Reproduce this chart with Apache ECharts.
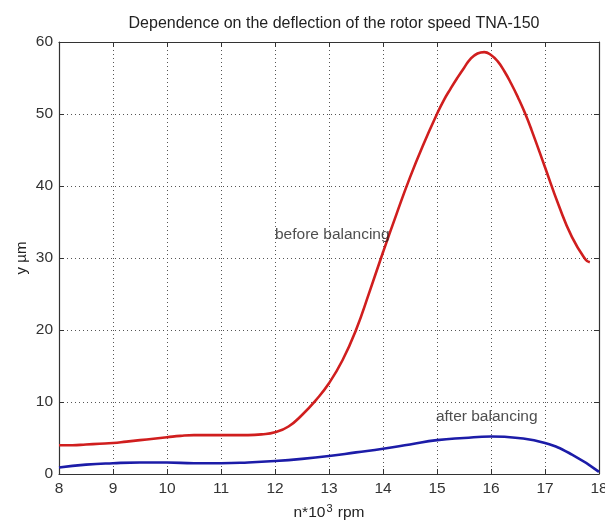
<!DOCTYPE html>
<html>
<head>
<meta charset="utf-8">
<script src="https://cdn.jsdelivr.net/npm/echarts@6/dist/echarts.min.js"></script>
<style>html,body{margin:0;padding:0;background:#fff;}#c{width:605px;height:521px;}</style>
</head>
<body>
<div id="c"></div>
<script>
var titleText = 'Dependence on the deflection of the rotor speed TNA-150';
var xNameParts = ['n*10', '3', ' rpm'];
var yName = 'y µm';
var xTicks = [8, 9, 10, 11, 12, 13, 14, 15, 16, 17, 18];
var yTicks = [0, 10, 20, 30, 40, 50, 60];

var beforeX = [8, 8.25, 8.5, 8.75, 9, 9.25, 9.5, 9.75, 10, 10.25, 10.5, 10.75, 11, 11.25, 11.5, 11.75, 12, 12.25, 12.5, 12.75, 13, 13.25, 13.5, 13.75, 14, 14.25, 14.5, 14.75, 15, 15.125, 15.25, 15.375, 15.5, 15.625, 15.75, 15.875, 16, 16.125, 16.25, 16.375, 16.5, 16.625, 16.75, 17, 17.25, 17.5, 17.75, 17.83];
var beforeY = [4.0, 4.0, 4.1, 4.2, 4.3, 4.5, 4.7, 4.9, 5.1, 5.3, 5.4, 5.4, 5.4, 5.4, 5.4, 5.5, 5.8, 6.6, 8.2, 10.2, 12.6, 15.8, 20.0, 25.3, 30.8, 36.1, 41.2, 45.8, 50.0, 51.9, 53.5, 55.0, 56.4, 57.7, 58.4, 58.6, 58.2, 57.3, 55.9, 54.2, 52.3, 50.2, 47.8, 42.6, 37.4, 32.9, 29.8, 29.4];

var afterX = [8, 8.5, 9, 9.5, 10, 10.5, 11, 11.5, 12, 12.5, 13, 13.5, 14, 14.5, 15, 15.5, 16, 16.5, 17, 17.5, 18];
var afterY = [0.9, 1.3, 1.5, 1.6, 1.6, 1.5, 1.5, 1.6, 1.8, 2.1, 2.5, 3.0, 3.5, 4.1, 4.7, 5.0, 5.2, 5.0, 4.3, 2.7, 0.3];

var annotTexts = ['before balancing', 'after balancing'];
var annotX = [12.0, 14.98];
var annotY = [33.2, 8.0];

function zip(a, b) { return a.map(function (v, i) { return [v, b[i]]; }); }

var chart = echarts.init(document.getElementById('c'));
var font = 'Liberation Sans, Arial, sans-serif';
var axisColor = '#333';
var gridLine = { show: true, lineStyle: { color: '#555', width: 1, type: [1, 3] } };

chart.setOption({
  animation: false,
  backgroundColor: '#fff',
  title: {
    text: titleText, left: 329, top: 11, textAlign: 'center',
    textStyle: { fontSize: 16, fontWeight: 'normal', color: '#222', fontFamily: font }
  },
  grid: { left: 59, right: 6, top: 42, bottom: 47, outerBoundsMode: 'none', containLabel: false },
  xAxis: [{
    type: 'value', min: 8, max: 18, interval: 1, position: 'bottom',
    name: '{a|' + xNameParts[0] + '}{s|' + xNameParts[1] + '}{a|' + xNameParts[2] + '}',
    nameLocation: 'middle', nameGap: 29,
    nameTextStyle: { fontFamily: font, color: '#222',
      rich: { a: { fontSize: 15.5, color: '#222', fontFamily: font },
              s: { fontSize: 11, color: '#222', fontFamily: font, padding: [0, 1, 9, 1] } } },
    axisLine: { show: true, onZero: false, lineStyle: { color: axisColor, width: 1.2 } },
    axisTick: { show: true, inside: true, length: 5, lineStyle: { color: axisColor } },
    axisLabel: { fontSize: 15.5, color: '#333', fontFamily: font, margin: 7,
      formatter: function (v) { return xTicks.indexOf(v) >= 0 ? String(v) : ''; } },
    splitLine: gridLine
  }, {
    type: 'value', min: 8, max: 18, interval: 1, position: 'top',
    axisLine: { show: true, onZero: false, lineStyle: { color: axisColor, width: 1.2 } },
    axisTick: { show: true, inside: true, length: 5, lineStyle: { color: axisColor } },
    axisLabel: { show: false }, splitLine: { show: false }
  }],
  yAxis: [{
    type: 'value', min: 0, max: 60, interval: 10, position: 'left',
    name: yName, nameLocation: 'middle', nameGap: 30, nameMoveOverlap: false,
    nameTextStyle: { fontSize: 15, color: '#222', fontFamily: font },
    axisLine: { show: true, onZero: false, lineStyle: { color: axisColor, width: 1.2 } },
    axisTick: { show: true, inside: true, length: 5, lineStyle: { color: axisColor } },
    axisLabel: { fontSize: 15.5, color: '#333', fontFamily: font, margin: 6,
      formatter: function (v) { return yTicks.indexOf(v) >= 0 ? String(v) : ''; } },
    splitLine: gridLine
  }, {
    type: 'value', min: 0, max: 60, interval: 10, position: 'right',
    axisLine: { show: true, onZero: false, lineStyle: { color: axisColor, width: 1.2 } },
    axisTick: { show: true, inside: true, length: 5, lineStyle: { color: axisColor } },
    axisLabel: { show: false }, splitLine: { show: false }
  }],
  series: [{
    name: 'before balancing', type: 'line', smooth: 0.5, showSymbol: false,
    data: zip(beforeX, beforeY),
    lineStyle: { color: '#d01e1e', width: 2.6 }, z: 3
  }, {
    name: 'after balancing', type: 'line', smooth: 0.5, showSymbol: false,
    data: zip(afterX, afterY),
    lineStyle: { color: '#1c1ca8', width: 2.6 }, z: 3
  }, {
    type: 'scatter', symbolSize: 0, silent: true, z: 5,
    data: annotTexts.map(function (t, i) { return { value: [annotX[i], annotY[i]], name: t }; }),
    label: { show: true, position: 'right', distance: 0, formatter: '{b}',
      fontSize: 15.5, color: '#222', fontFamily: font }
  }]
});
</script>
</body>
</html>
